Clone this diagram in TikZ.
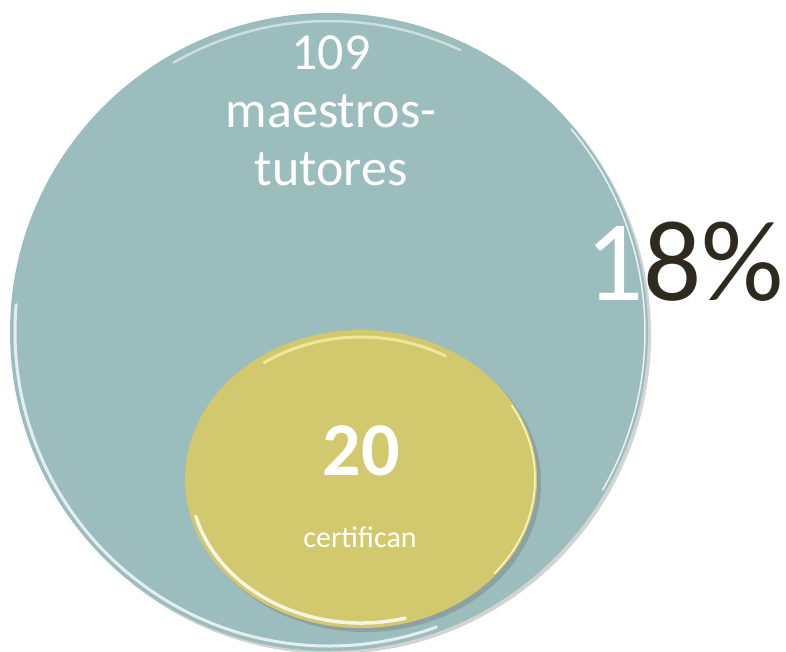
\documentclass[tikz,border=0pt]{standalone}
\usepackage{fontspec}
\setmainfont{Carlito}
\usetikzlibrary{shapes.geometric, shadows}

\definecolor{tealfill}{HTML}{9BBDBD}
\definecolor{yellowfill}{HTML}{D2C96E}
\definecolor{pctdark}{HTML}{2E2A20}

\begin{document}
\begin{tikzpicture}[x=1pt, y=1pt, every node/.style={inner sep=0pt, outer sep=0pt},
        bigset/.style={circle, fill=tealfill, minimum size=638pt,
            drop shadow={shadow xshift=3pt, shadow yshift=-3pt, opacity=0.35}},
        smallset/.style={ellipse, fill=yellowfill, minimum width=352pt, minimum height=298pt,
            drop shadow={shadow xshift=4pt, shadow yshift=-4pt, opacity=0.45}},
        whitetext/.style={text=white}]
    \useasboundingbox (0,0) rectangle (786,-651);

    \node[bigset] (tutores) at (329,-332) {};
    % shine on the rim
    \draw[white, line width=3pt, opacity=0.75, line cap=round] (tutores.center) ++(175:314) arc[start angle=175, end angle=290, radius=314];
    \draw[white, line width=1.5pt, opacity=0.8, line cap=round] (tutores.center) ++(-30:316) arc[start angle=-30, end angle=40, radius=316];
    \draw[white, line width=2.5pt, opacity=0.5, line cap=round] (tutores.center) ++(65:311) arc[start angle=65, end angle=120, radius=311];

    \node[smallset] (certif) at (361,-479) {};
    \draw[white, line width=3.5pt, opacity=0.8, line cap=round] (certif.center) ++(195:171 and 144) arc[start angle=195, end angle=285, x radius=171, y radius=144];
    \draw[white!80!yellow, line width=1.5pt, opacity=0.9, line cap=round] (certif.center) ++(-40:174 and 147) arc[start angle=-40, end angle=30, x radius=174, y radius=147];
    \draw[white!70!yellow, line width=3pt, opacity=0.6, line cap=round] (certif.center) ++(60:169 and 142) arc[start angle=60, end angle=125, x radius=169, y radius=142];

    \node[whitetext, align=center, font=\fontsize{52}{58}\selectfont, anchor=north] (count) at (331,-36) {109\\maestros-\\tutores};
    \node[text=pctdark, anchor=base west, font=\fontsize{115}{115}\selectfont] (share) at (585,-300) {\textcolor{white}{1}8\%};

    \node[whitetext, anchor=base, font=\bfseries\fontsize{76}{76}\selectfont] (certnum) at (361,-475) {20};
    \node[whitetext, anchor=base, font=\fontsize{30}{30}\selectfont] (certlbl) at (360,-547) {certifican};
\end{tikzpicture}
\end{document}
